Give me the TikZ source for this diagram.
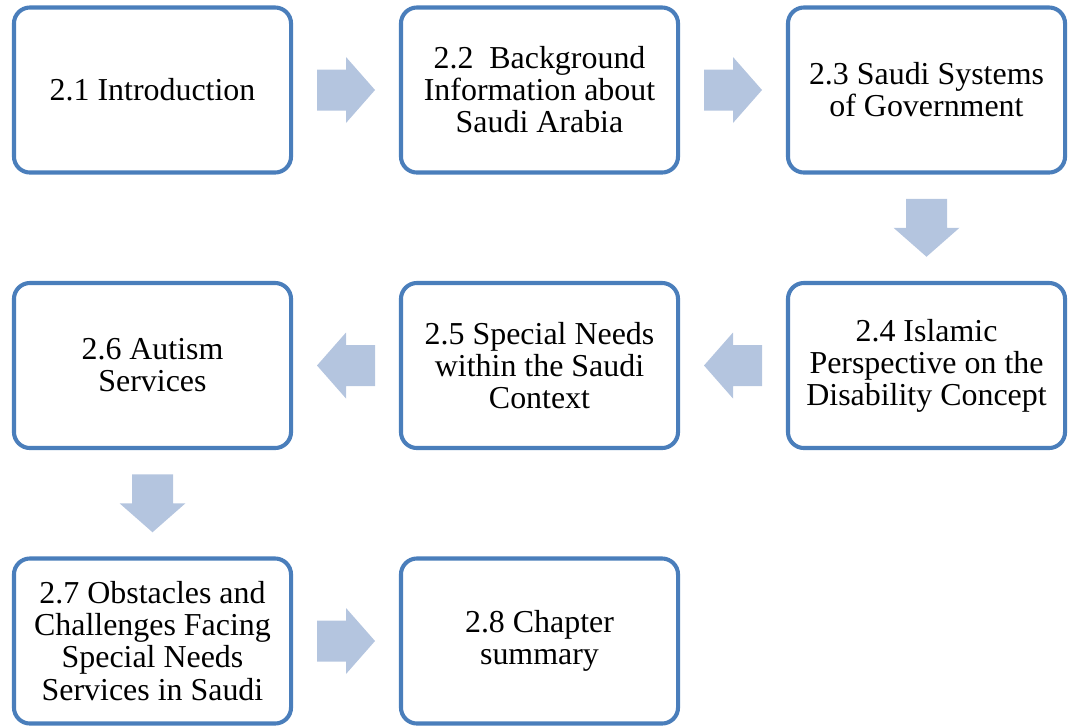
\documentclass[tikz,border=0pt]{standalone}
\usepackage{fontspec}
\setmainfont{Liberation Serif}
\usepackage{tikz}
\usetikzlibrary{calc}
\definecolor{boxblue}{RGB}{74,126,187}
\definecolor{arrowblue}{RGB}{180,197,223}

\tikzset{
  chapbox/.style={draw=boxblue, line width=2.9pt, rounded corners=0.4cm, fill=white,
    minimum width=6.925cm, minimum height=4.125cm, inner sep=0pt, align=center,
    font=\fontsize{22.7}{22.8}\selectfont}
}

% block arrow at a named coordinate, turned by an angle
\newcommand{\blockarrow}[2]{%
  \fill[arrowblue, shift={(#1)}, rotate=#2] (-29,-20.5) -- (0,-20.5) -- (0,-33) -- (29,0)
    -- (0,33) -- (0,20.5) -- (-29,20.5) -- cycle;}

\begin{document}
\begin{tikzpicture}[x=0.025cm, y=-0.025cm]
\useasboundingbox (0,0) rectangle (1070,725);
% First row
\node[chapbox] (s21) at (152.5,90) {2.1 Introduction};
\node[chapbox] (s22) at (539.5,90) {2.2~ Background\\Information about\\Saudi Arabia};
\node[chapbox] (s23) at (926.5,90) {2.3 Saudi Systems\\of Government};
% Second row
\node[chapbox] (s24) at (926.5,365.5) {2.4 Islamic\\Perspective on the\\Disability Concept};
\node[chapbox] (s25) at (539.5,365.5) {2.5 Special Needs\\within the Saudi\\Context};
\node[chapbox] (s26) at (152.5,365.5) {2.6 Autism\\Services};
% Third row
\node[chapbox] (s27) at (152.5,641) {2.7 Obstacles and\\Challenges Facing\\Special Needs\\Services in Saudi};
\node[chapbox] (s28) at (539.5,641) {2.8 Chapter\\summary};
% Arrow places
\coordinate (m12) at ($(s21.east)!0.5!(s22.west)$);
\coordinate (m23) at ($(s22.east)!0.5!(s23.west)$);
\coordinate (m34) at ($(s23.south)!0.5!(s24.north)$);
\coordinate (m45) at ($(s24.west)!0.5!(s25.east)$);
\coordinate (m56) at ($(s25.west)!0.5!(s26.east)$);
\coordinate (m67) at ($(s26.south)!0.5!(s27.north)$);
\coordinate (m78) at ($(s27.east)!0.5!(s28.west)$);
% Arrows
\blockarrow{m12}{0}
\blockarrow{m23}{0}
\blockarrow{m34}{-90}
\blockarrow{m45}{180}
\blockarrow{m56}{180}
\blockarrow{m67}{-90}
\blockarrow{m78}{0}
\end{tikzpicture}
\end{document}
